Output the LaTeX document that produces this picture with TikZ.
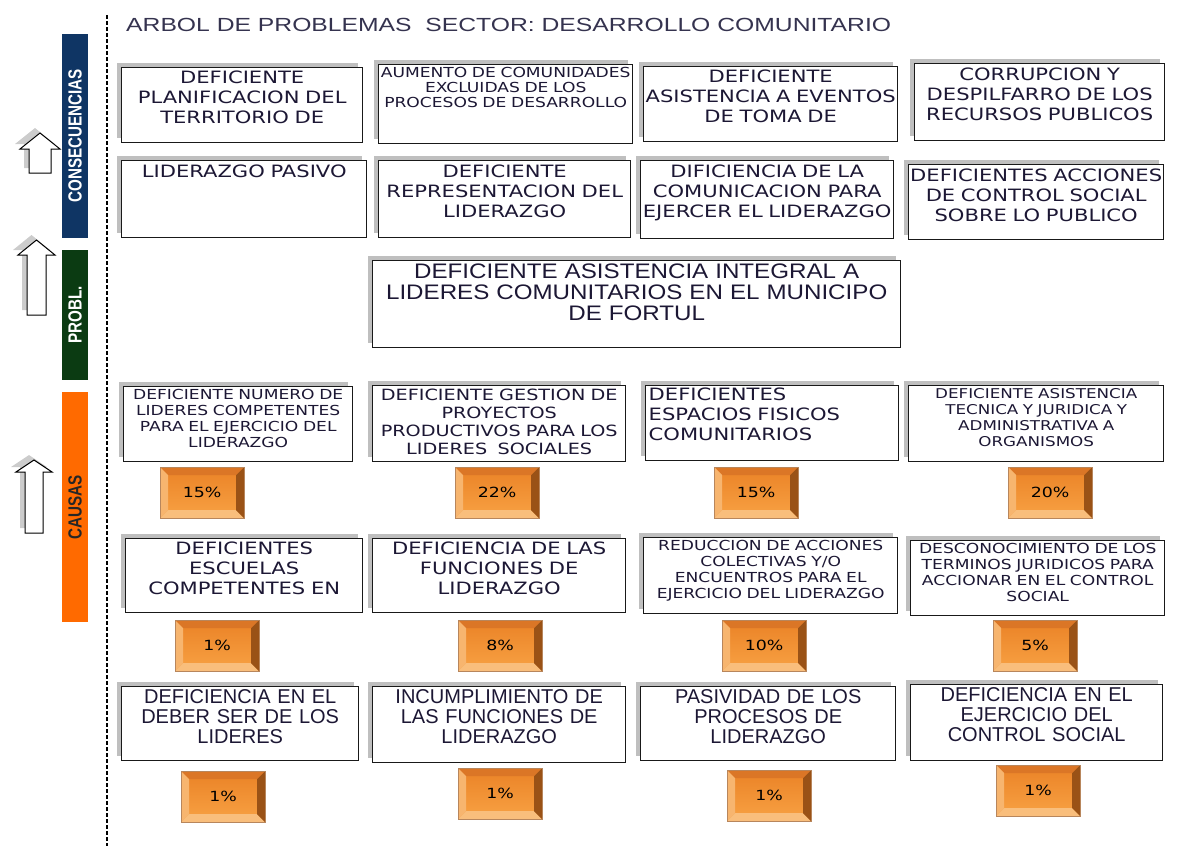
\documentclass[tikz,border=0pt]{standalone}
\usepackage{fontspec}
\usepackage{tikz}
\usetikzlibrary{shadows}
\newfontfamily\vfont[FakeStretch=1.24]{DejaVu Sans}
\newfontfamily\afont[FakeStretch=1.15]{Liberation Sans}
\newfontfamily\tfont[FakeStretch=1.3]{Liberation Sans}
\newfontfamily\nfont{Liberation Sans}
\newfontfamily\sfont[FakeStretch=0.8]{Liberation Sans}
\definecolor{mBlue}{HTML}{0F3564}
\definecolor{mDkGreen}{HTML}{0B3B12}
\definecolor{mOrange}{HTML}{FF6A00}
\definecolor{mInk}{HTML}{1C1734}
\definecolor{mTitle}{HTML}{35334F}
\definecolor{mPctTop}{HTML}{EA8226}
\definecolor{mPctBot}{HTML}{F8A244}
\definecolor{mPctDark}{HTML}{9A5216}
\definecolor{mPctMid}{HTML}{DB7626}
\definecolor{mPctLt}{HTML}{F9BE7C}
\tikzset{
  box/.style={draw=black!90, line width=1.4pt, fill=white, anchor=north west,
    align=center, inner xsep=1pt, inner ysep=0pt, text height=16pt, text=mInk,
    general shadow={fill=gray!50, shadow xshift=-5pt, shadow yshift=5pt}},
  big/.style={font=\vfont\fontsize{17}{20}\selectfont},
  small/.style={font=\vfont\fontsize{13.8}{16}\selectfont},
  narrow/.style={font=\nfont\fontsize{20}{20}\selectfont},
  sidelbl/.style={rotate=90, font=\sfont\bfseries\fontsize{19}{19}\selectfont, inner sep=0pt},
  uparrow/.style={draw=black, fill=white, line width=1pt,
    general shadow={fill=gray!40, shadow xshift=-5pt, shadow yshift=5pt}},
  pctbox/.style={anchor=north west, minimum width=84pt, minimum height=51pt, inner sep=0pt,
    top color=mPctTop, bottom color=mPctBot, draw=mPctDark!70, line width=0.4pt,
    font=\vfont\fontsize{14}{14}\selectfont, text=black,
    path picture={
      \coordinate (pnw) at (path picture bounding box.north west);
      \coordinate (pne) at (path picture bounding box.north east);
      \coordinate (psw) at (path picture bounding box.south west);
      \coordinate (pse) at (path picture bounding box.south east);
      \fill[mPctMid] (pnw) -- (pne) -- ([shift={(-8pt,-8pt)}]pne) -- ([shift={(8pt,-8pt)}]pnw) -- cycle;
      \fill[mPctLt] (psw) -- (pse) -- ([shift={(-8pt,8pt)}]pse) -- ([shift={(8pt,8pt)}]psw) -- cycle;
      \fill[mPctLt!85!mPctTop] (pnw) -- (psw) -- ([shift={(8pt,8pt)}]psw) -- ([shift={(8pt,-8pt)}]pnw) -- cycle;
      \fill[mPctDark] (pne) -- (pse) -- ([shift={(-8pt,8pt)}]pse) -- ([shift={(-8pt,-8pt)}]pne) -- cycle;
    }}
}

\begin{document}
\begin{tikzpicture}[x=1pt, y=-1pt]
  \useasboundingbox (0,0) rectangle (1195,846);
  % side bars and arrows
  \fill[mBlue] (62,34) rectangle (88,238);
  \fill[mDkGreen] (62,250) rectangle (88,380);
  \fill[mOrange] (62,392) rectangle (88,622);
  \node[sidelbl, text=white] (lcons) at (75,136) {CONSECUENCIAS};
  \node[sidelbl, text=white] (lprobl) at (75,315) {PROBL.};
  \node[sidelbl, text=black!85] (lcausas) at (75,507) {CAUSAS};
  \draw[uparrow] (29,173) -- (29,149) -- (20,149) -- (40,133) -- (60,149) -- (51,149) -- (51,173) -- cycle;
  \draw[uparrow] (27,315) -- (27,255) -- (18,255) -- (36.5,240) -- (55,255) -- (46,255) -- (46,315) -- cycle;
  \draw[uparrow] (25,533) -- (25,472) -- (16,472) -- (34,460) -- (52,472) -- (43,472) -- (43,533) -- cycle;
  \draw[line width=1.2pt, dash pattern=on 4pt off 2pt] (107,15) -- (107,846);

  \node[anchor=base west, inner sep=0pt, text=mTitle, font=\tfont\fontsize{19}{19}\selectfont]
    (title) at (126,31) {ARBOL DE PROBLEMAS\ \ SECTOR: DESARROLLO COMUNITARIO};

  % consecuencias
  \node[box, big, text width=239pt, text depth=59pt] (a1) at (121,67) {DEFICIENTE\\PLANIFICACION DEL\\TERRITORIO DE};
  \node[box, font=\vfont\fontsize{13.8}{15}\selectfont, text width=252pt, text height=13pt, text depth=66pt] (a2) at (378,64) {AUMENTO DE COMUNIDADES\\EXCLUIDAS DE LOS\\PROCESOS DE DESARROLLO};
  \node[box, big, text width=252pt, text depth=59pt] (a3) at (643,66) {DEFICIENTE\\ASISTENCIA A EVENTOS\\DE TOMA DE};
  \node[box, big, text width=248pt, text height=17pt, text depth=60pt] (a4) at (914,63) {CORRUPCION Y\\DESPILFARRO DE LOS\\RECURSOS PUBLICOS};
  \node[box, big, text width=243pt, text height=17pt, text depth=60pt] (b1) at (121,160) {LIDERAZGO PASIVO};
  \node[box, big, text width=250pt, text height=17pt, text depth=60pt] (b2) at (378,160) {DEFICIENTE\\REPRESENTACION DEL\\LIDERAZGO};
  \node[box, big, text width=251pt, text height=16.5pt, text depth=61.5pt] (b3) at (640,160) {DIFICIENCIA DE LA\\COMUNICACION PARA\\EJERCER EL LIDERAZGO};
  \node[box, big, text width=253pt, text height=16.5pt, text depth=58.5pt] (b4) at (908,164) {DEFICIENTES ACCIONES\\DE CONTROL SOCIAL\\SOBRE LO PUBLICO};

  % problema central
  \node[box, font=\afont\fontsize{21}{21}\selectfont, text width=526pt, text height=18pt, text depth=69pt] (prob) at (372,260) {DEFICIENTE ASISTENCIA INTEGRAL A\\LIDERES COMUNITARIOS EN EL MUNICIPO\\DE FORTUL};

  % causas
  \node[box, small, text width=227pt, text height=13pt, text depth=62pt] (c1) at (123,386) {DEFICIENTE NUMERO DE\\LIDERES COMPETENTES\\PARA EL EJERCICIO DEL\\LIDERAZGO};
  \node[box, font=\vfont\fontsize{15.5}{18}\selectfont, text width=251pt, text height=15pt, text depth=61pt] (c2) at (372,385) {DEFICIENTE GESTION DE\\PROYECTOS\\PRODUCTIVOS PARA LOS\\LIDERES\ \ SOCIALES};
  \node[box, big, align=left, inner xsep=3pt, text width=247pt, text height=15pt, text depth=60pt] (c3) at (645,385) {DEFICIENTES\\ESPACIOS FISICOS\\COMUNITARIOS};
  \node[box, font=\vfont\fontsize{13.5}{16}\selectfont, text width=253pt, text height=12.5pt, text depth=63.5pt] (c4) at (908,385) {DEFICIENTE ASISTENCIA\\TECNICA Y JURIDICA Y\\ADMINISTRATIVA A\\ORGANISMOS};
  \node[box, big, text width=235pt, text height=16pt, text depth=58pt] (d1) at (125,538) {DEFICIENTES\\ESCUELAS\\COMPETENTES EN};
  \node[box, big, text width=251pt, text height=16pt, text depth=58pt] (d2) at (372,538) {DEFICIENCIA DE LAS\\FUNCIONES DE\\LIDERAZGO};
  \node[box, small, text width=252pt, text height=13pt, text depth=63pt] (d3) at (643,537) {REDUCCION DE ACCIONES\\COLECTIVAS Y/O\\ENCUENTROS PARA EL\\EJERCICIO DEL LIDERAZGO};
  \node[box, small, text width=252pt, text height=13pt, text depth=62pt] (d4) at (910,540) {DESCONOCIMIENTO DE LOS\\TERMINOS JURIDICOS PARA\\ACCIONAR EN EL CONTROL\\SOCIAL};
  \node[box, narrow, text width=235pt, text height=17pt, text depth=57pt] (e1) at (121,686) {DEFICIENCIA EN EL\\DEBER SER DE LOS\\LIDERES};
  \node[box, narrow, text width=251pt, text height=17pt, text depth=59pt] (e2) at (372,686) {INCUMPLIMIENTO DE\\LAS FUNCIONES DE\\LIDERAZGO};
  \node[box, narrow, text width=253pt, text height=17pt, text depth=57pt] (e3) at (640,686) {PASIVIDAD DE LOS\\PROCESOS DE\\LIDERAZGO};
  \node[box, narrow, text width=250pt, text height=17pt, text depth=59pt] (e4) at (910,684) {DEFICIENCIA EN EL\\EJERCICIO DEL\\CONTROL SOCIAL};

  % porcentajes
  \foreach \n/\x/\y/\v in {pc1/160/467/15, pc2/455/467/22, pc3/714/467/15, pc4/1008/467/20,
      pd1/175/620/1, pd2/458/620/8, pd3/722/620/10, pd4/993/620/5,
      pe1/181/771/1, pe2/458/768/1, pe3/727/770/1, pe4/996/765/1}
    \node[pctbox] (\n) at (\x,\y) {\v\%};
\end{tikzpicture}
\end{document}
